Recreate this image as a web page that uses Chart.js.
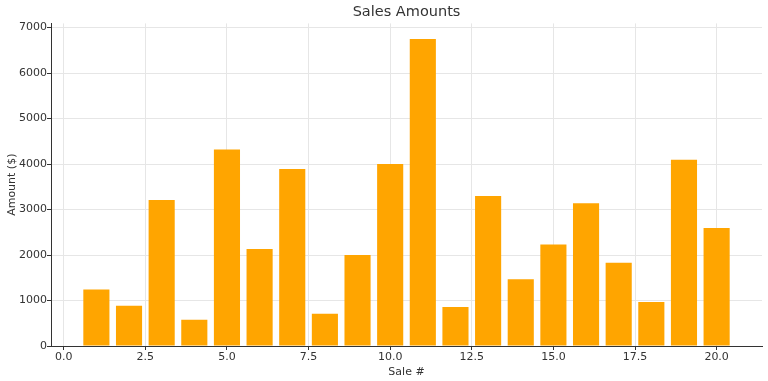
<!DOCTYPE html>
<html>
<head>
<meta charset="utf-8">
<script src="https://cdn.jsdelivr.net/npm/chart.js@4"></script>
<style>
html,body{margin:0;padding:0;background:#fff;}
#wrap{width:768px;height:381px;position:relative;}
</style>
</head>
<body>
<div id="wrap"><canvas id="c" width="768" height="381"></canvas></div>
<script>
const saleNumbers = [1,2,3,4,5,6,7,8,9,10,11,12,13,14,15,16,17,18,19,20];
const amounts = [1240,885,3210,575,4320,2135,3890,710,2000,4000,6750,860,3300,1470,2230,3140,1830,965,4095,2595];
const xTicks = [0,2.5,5,7.5,10,12.5,15,17.5,20];
const yTicks = [0,1000,2000,3000,4000,5000,6000,7000];
const chartTitle = 'Sales Amounts';
const xTitle = 'Sale #';
const yTitle = 'Amount ($)';

const font = 'DejaVu Sans';
const textColor = '#333333';
const gridColor = '#e6e6e6';

new Chart(document.getElementById('c'), {
  type: 'bar',
  data: {
    datasets: [{
      data: saleNumbers.map((x, i) => ({x: x, y: amounts[i]})),
      backgroundColor: '#FFA500',
      borderWidth: 0,
      barPercentage: 0.8,
      categoryPercentage: 1.0
    }]
  },
  options: {
    responsive: false,
    animation: false,
    devicePixelRatio: 1,
    layout: {padding: {left: 0, right: 6, top: 0, bottom: 0}},
    plugins: {
      legend: {display: false},
      tooltip: {enabled: false},
      title: {
        display: true,
        fullSize: false,
        text: chartTitle,
        color: textColor,
        font: {family: font, size: 14.5, weight: 'normal'},
        padding: {top: 4, bottom: 2}
      }
    },
    scales: {
      x: {
        type: 'linear',
        offset: false,
        min: -0.39,
        max: 21.39,
        afterBuildTicks: s => { s.ticks = xTicks.map(v => ({value: v})); },
        afterFit: s => { s.height = 35; },
        ticks: {
          color: textColor,
          font: {family: font, size: 11},
          padding: 1,
          maxRotation: 0,
          autoSkip: false,
          callback: v => Number(v).toFixed(1)
        },
        grid: {offset: false, color: gridColor, lineWidth: 1, tickLength: 4, tickColor: textColor, drawTicks: true},
        border: {display: true, color: textColor, width: 1},
        title: {display: true, text: xTitle, color: textColor, font: {family: font, size: 11}, padding: {top: 0, bottom: 2}}
      },
      y: {
        type: 'linear',
        min: 0,
        max: 7092,
        afterBuildTicks: s => { s.ticks = yTicks.map(v => ({value: v})); },
        afterFit: s => { s.width = 51; },
        ticks: {
          color: textColor,
          font: {family: font, size: 11},
          padding: 0,
          autoSkip: false,
          callback: v => String(v)
        },
        grid: {color: gridColor, lineWidth: 1, tickLength: 4, tickColor: textColor, drawTicks: true},
        border: {display: true, color: textColor, width: 1},
        title: {display: true, text: yTitle, color: textColor, font: {family: font, size: 11}, padding: {top: 6, bottom: 0}}
      }
    }
  }
});
</script>
</body>
</html>
